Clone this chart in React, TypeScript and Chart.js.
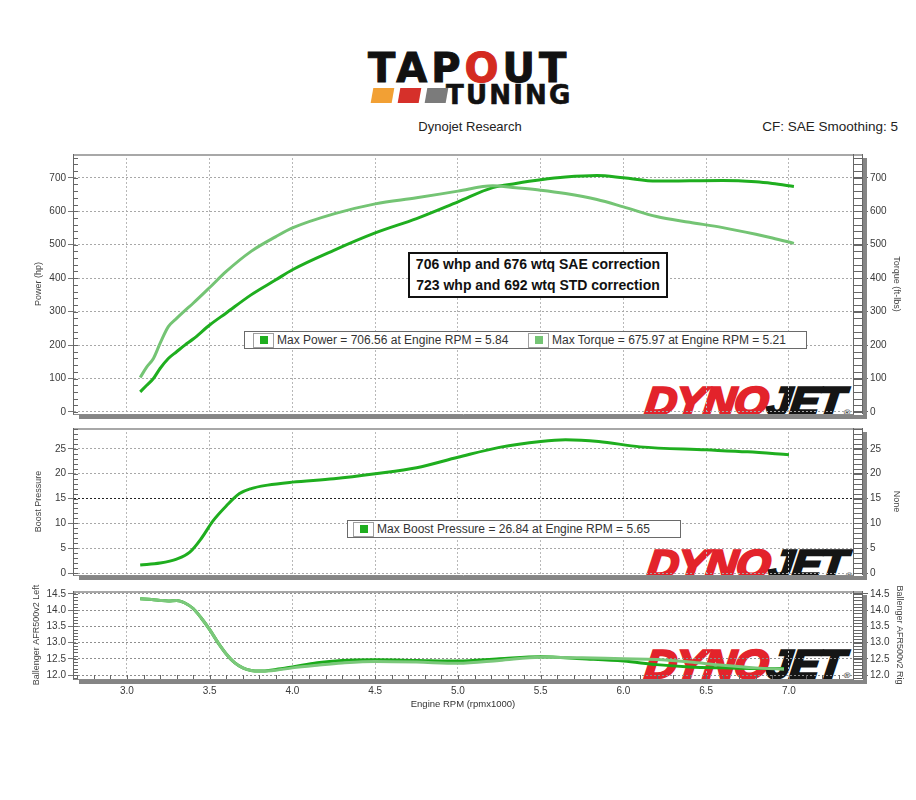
import React, { useEffect, useRef } from "react";
import { Chart, registerables } from "chart.js";
Chart.register(...registerables);

// ---------- data ----------
const rpmDyno = [3.08, 3.12, 3.16, 3.2, 3.25, 3.3, 3.35, 3.4, 3.5, 3.6, 3.75, 3.9, 4.0, 4.25, 4.5, 4.75, 5.0, 5.21, 5.35, 5.5, 5.65, 5.84, 6.0, 6.2, 6.4, 6.6, 6.8, 6.9, 7.03];
const powerHp = [60, 80, 100, 130, 160, 180, 200, 218, 260, 296, 350, 395, 425, 483, 535, 578, 628, 670.6, 683, 694, 702, 706.56, 700, 690, 691, 692, 688, 683, 674];
const torqueFtLbs = [103, 135, 160, 205, 255, 280, 303, 325, 372, 420, 480, 524, 550, 592, 622, 640, 660, 675.97, 670, 663, 653, 635, 613, 584, 567, 551, 531, 520, 504];

const rpmBoost = [3.08, 3.2, 3.3, 3.38, 3.45, 3.52, 3.6, 3.68, 3.75, 3.85, 4.0, 4.25, 4.5, 4.75, 5.0, 5.25, 5.5, 5.65, 5.85, 6.1, 6.5, 6.75, 7.0];
const boostPsi = [1.6, 2.0, 2.8, 4.2, 7.0, 10.5, 13.5, 16.0, 17.0, 17.7, 18.3, 19.0, 20.0, 21.2, 23.3, 25.3, 26.5, 26.84, 26.5, 25.4, 24.8, 24.4, 23.8];

const rpmAfr = [3.08, 3.15, 3.2, 3.25, 3.3, 3.35, 3.4, 3.45, 3.5, 3.55, 3.6, 3.65, 3.7, 3.75, 3.8, 3.9, 4.0, 4.15, 4.3, 4.5, 4.75, 5.0, 5.25, 5.5, 5.75, 6.0, 6.2, 6.4, 6.6, 6.8, 6.97];
const afrLeft = [14.35, 14.33, 14.3, 14.28, 14.3, 14.22, 14.05, 13.75, 13.4, 13.0, 12.65, 12.38, 12.22, 12.14, 12.12, 12.15, 12.22, 12.3, 12.37, 12.42, 12.4, 12.36, 12.45, 12.55, 12.53, 12.5, 12.48, 12.4, 12.3, 12.22, 12.18];
const afrRight = [14.35, 14.33, 14.3, 14.28, 14.3, 14.22, 14.05, 13.75, 13.4, 13.0, 12.65, 12.38, 12.22, 12.14, 12.12, 12.17, 12.25, 12.38, 12.45, 12.47, 12.45, 12.43, 12.5, 12.56, 12.5, 12.43, 12.32, 12.25, 12.22, 12.2, 12.2];

const xTickValues = [3.0, 3.5, 4.0, 4.5, 5.0, 5.5, 6.0, 6.5, 7.0];
const powerTicks = [0, 100, 200, 300, 400, 500, 600, 700];
const boostTicks = [0, 5, 10, 15, 20, 25];
const afrTicks = [12.0, 12.5, 13.0, 13.5, 14.0, 14.5];

const maxPower = { value: 706.56, rpm: 5.84 };
const maxTorque = { value: 675.97, rpm: 5.21 };
const maxBoost = { value: 26.84, rpm: 5.65 };
const noteLines = ["706 whp and 676 wtq SAE correction", "723 whp and 692 wtq STD correction"];

// ---------- style ----------
const FONT = "'Liberation Sans', Arial, sans-serif";
const X_MIN = 2.674;
const X_MAX = 7.387;
const C_POWER = "#1fae1f";
const C_TORQUE = "#74c474";
const C_AFR_L = "#7bc87b";
const C_AFR_R = "#1aaa1a";

const framePlugin = {
  id: "frame",
  afterDraw(chart: any, _args: any, o: any) {
    const { ctx, chartArea: a } = chart;
    const ys = chart.scales.y;
    const xs = chart.scales.x;
    ctx.save();
    ctx.setLineDash([]);
    ctx.strokeStyle = "#a8a8a8";
    ctx.lineWidth = 2;
    ctx.beginPath();
    ctx.moveTo(a.left, a.top + 1);
    ctx.lineTo(a.right + 10, a.top + 1);
    ctx.stroke();
    ctx.lineWidth = 1;
    ctx.strokeStyle = "#666";
    ctx.beginPath();
    ctx.moveTo(a.left + 0.5, a.top);
    ctx.lineTo(a.left + 0.5, a.bottom);
    ctx.moveTo(a.right + 0.5, a.top);
    ctx.lineTo(a.right + 0.5, a.bottom);
    ctx.moveTo(a.right + 9.5, a.top);
    ctx.lineTo(a.right + 9.5, a.bottom);
    const step = o.minorY;
    const s0 = Math.ceil(ys.min / step - 1e-6);
    const s1 = Math.floor(ys.max / step + 1e-6);
    for (let i = s0; i <= s1; i++) {
      const p = Math.round(ys.getPixelForValue(i * step)) + 0.5;
      ctx.moveTo(a.left, p);
      ctx.lineTo(a.left + 5, p);
      ctx.moveTo(a.right, p);
      ctx.lineTo(a.right + 9, p);
    }
    if (o.minorX) {
      const t0 = Math.ceil(xs.min / o.minorX - 1e-6);
      const t1 = Math.floor(xs.max / o.minorX + 1e-6);
      for (let i = t0; i <= t1; i++) {
        const p = Math.round(xs.getPixelForValue(i * o.minorX)) + 0.5;
        ctx.moveTo(p, a.bottom);
        ctx.lineTo(p, a.bottom - 4);
      }
    }
    ctx.stroke();
    ctx.fillStyle = "#858585";
    ctx.fillRect(a.right + 10, a.top + 4, 4, a.height + 1);
    ctx.fillRect(a.left + 6, a.bottom + 1, a.width + 8, 4);
    ctx.restore();
  },
};

function xScale(showLabels: boolean, titleText = "") {
  return {
    type: "linear",
    position: "bottom",
    min: X_MIN,
    max: X_MAX,
    afterBuildTicks: (s: any) => {
      s.ticks = xTickValues.map((v) => ({ value: v }));
    },
    afterFit: (s: any) => {
      s.height = showLabels ? 34 : 7;
    },
    ticks: {
      display: showLabels,
      font: { family: FONT, size: 10 },
      color: "#3a3a3a",
      padding: 6,
      maxRotation: 0,
      autoSkip: false,
      callback: (v: any) => Number(v).toFixed(1),
    },
    grid: { color: "#b8b8b8", drawTicks: false, lineWidth: 1 },
    border: { dash: [2, 2], color: "#8a8a8a", width: 1 },
    title: {
      display: showLabels,
      text: titleText,
      font: { family: FONT, size: 9.5 },
      color: "#333",
      padding: { top: 0, bottom: 3 },
    },
  };
}

function yScale(
  side: "left" | "right",
  min: number,
  max: number,
  tickVals: number[],
  title: string,
  titlePad: number,
  decimals: number,
  gridColor: any
) {
  const left = side === "left";
  return {
    type: "linear",
    position: side,
    min,
    max,
    afterBuildTicks: (s: any) => {
      s.ticks = tickVals.map((v) => ({ value: v }));
    },
    afterFit: (s: any) => {
      s.width = left ? 73 : 63;
    },
    ticks: {
      font: { family: FONT, size: 10 },
      color: "#3a3a3a",
      padding: 2,
      autoSkip: false,
      callback: (v: any) => Number(v).toFixed(decimals),
    },
    grid: left
      ? { color: gridColor, tickLength: 5, tickColor: "#777", drawTicks: true }
      : { drawOnChartArea: false, tickLength: 15, tickColor: "#666", drawTicks: true },
    border: { dash: [2, 2], color: "#777", width: 1 },
    title: {
      display: true,
      text: title,
      font: { family: FONT, size: 9 },
      color: "#444",
      padding: { top: titlePad, bottom: 0 },
    },
  };
}

function pts(xs: number[], ys: number[]) {
  return xs.map((x, i) => ({ x, y: ys[i] }));
}

function lineDs(label: string, data: any[], color: string, axis: string) {
  return {
    label,
    data,
    borderColor: color,
    backgroundColor: color,
    borderWidth: 3,
    pointRadius: 0,
    cubicInterpolationMode: "monotone",
    yAxisID: axis,
    fill: false,
  };
}

function baseOptions(padTop: number, scales: any, frame: any) {
  return {
    animation: false,
    responsive: false,
    maintainAspectRatio: false,
    devicePixelRatio: 1,
    layout: { padding: { top: padTop, left: 0, right: 0, bottom: 0 } },
    plugins: { legend: { display: false }, tooltip: { enabled: false }, frame },
    scales,
  };
}

const powerConfig: any = {
  type: "line",
  data: {
    datasets: [
      lineDs("Torque", pts(rpmDyno, torqueFtLbs), C_TORQUE, "y2"),
      lineDs("Power", pts(rpmDyno, powerHp), C_POWER, "y"),
    ],
  },
  options: baseOptions(
    14,
    {
      x: xScale(false),
      y: yScale("left", -6, 771, powerTicks, "Power (hp)", 33, 0, "#a8a8a8"),
      y2: yScale("right", -6, 771, powerTicks, "Torque (ft-lbs)", 14, 0, "#a8a8a8"),
    },
    { minorY: 20 }
  ),
  plugins: [framePlugin],
};

const boostConfig: any = {
  type: "line",
  data: { datasets: [lineDs("Boost Pressure", pts(rpmBoost, boostPsi), C_POWER, "y")] },
  options: baseOptions(
    8,
    {
      x: xScale(false),
      y: yScale("left", -0.4, 29.2, boostTicks, "Boost Pressure", 33, 0, (c: any) =>
        c.tick && c.tick.value === 15 ? "#222" : "#a8a8a8"
      ),
      y2: yScale("right", -0.4, 29.2, boostTicks, "None", 14, 0, "#a8a8a8"),
    },
    { minorY: 1 }
  ),
  plugins: [framePlugin],
};

const afrConfig: any = {
  type: "line",
  data: {
    datasets: [
      lineDs("Ballenger AFR500v2 Left", pts(rpmAfr, afrLeft), C_AFR_L, "y"),
      lineDs("Ballenger AFR500v2 Right", pts(rpmAfr, afrRight), C_AFR_R, "y2"),
    ],
  },
  options: baseOptions(
    8,
    {
      x: xScale(true, "Engine RPM (rpmx1000)"),
      y: yScale("left", 11.877, 14.59, afrTicks, "Ballenger AFR500v2 Left", 31, 1, "#8f8f8f"),
      y2: yScale("right", 11.877, 14.59, afrTicks, "Ballenger AFR500v2 Rig", 11, 1, "#8f8f8f"),
    },
    { minorY: 0.1, minorX: 0.1 }
  ),
  plugins: [framePlugin],
};

// ---------- components ----------
function ChartCanvas({ top, height, config }: { top: number; height: number; config: any }) {
  const ref = useRef<HTMLCanvasElement>(null);
  useEffect(() => {
    const chart = new Chart(ref.current as HTMLCanvasElement, config);
    return () => chart.destroy();
  }, []);
  return (
    <canvas
      ref={ref}
      width={916}
      height={height}
      style={{ position: "absolute", left: 0, top, width: 916, height, zIndex: 1 }}
    />
  );
}

function Watermark({ left, top }: { left: number; top: number }) {
  return (
    <div
      style={{
        position: "absolute",
        left,
        top,
        zIndex: 0,
        fontFamily: FONT,
        fontWeight: 700,
        fontStyle: "italic",
        fontSize: 40,
        lineHeight: "40px",
        whiteSpace: "nowrap",
        transform: "scaleX(1.09) skewX(-6deg)",
        transformOrigin: "left top",
        letterSpacing: -1,
      }}
    >
      <span style={{ color: "#e3232b", WebkitTextStroke: "2.6px #e3232b" }}>DYNO</span>
      <span style={{ color: "#151515", WebkitTextStroke: "2.6px #151515" }}>JET</span>
      <span style={{ fontSize: 8, color: "#333", fontStyle: "normal", marginLeft: 1 }}>®</span>
    </div>
  );
}

function LegendIcon({ left, color }: { left: number; color: string }) {
  return (
    <div
      style={{
        position: "absolute",
        left,
        top: 1,
        width: 19,
        height: 13,
        border: "1px solid #a0a0a0",
        background: "#fff",
      }}
    >
      <div style={{ position: "absolute", left: 6, top: 2, width: 8, height: 8, background: color }} />
    </div>
  );
}

function LegendBox({
  left,
  top,
  width,
  items,
}: {
  left: number;
  top: number;
  width: number;
  items: { icon: number; text: string; color: string }[];
}) {
  return (
    <div
      style={{
        position: "absolute",
        left,
        top,
        width,
        height: 16,
        border: "1.5px solid #6a6a6a",
        background: "#fff",
        zIndex: 2,
        fontFamily: FONT,
        fontSize: 12,
        color: "#333",
      }}
    >
      {items.map((it, i) => (
        <React.Fragment key={i}>
          <LegendIcon left={it.icon} color={it.color} />
          <div style={{ position: "absolute", left: it.icon + 24, top: 1, lineHeight: "15px", whiteSpace: "nowrap" }}>
            {it.text}
          </div>
        </React.Fragment>
      ))}
    </div>
  );
}

export default function App() {
  return (
    <div
      style={{
        position: "absolute",
        left: 0,
        top: 0,
        width: 916,
        height: 800,
        background: "#fff",
        overflow: "hidden",
      }}
    >
      {/* logo */}
      <div
        style={{
          position: "absolute",
          left: 368,
          top: 48,
          fontFamily: "'DejaVu Sans', sans-serif",
          fontWeight: 700,
          fontSize: 40,
          lineHeight: "40px",
          letterSpacing: 4,
          color: "#111",
          whiteSpace: "nowrap",
          WebkitTextStroke: "1px #111",
        }}
      >
        TAP<span style={{ color: "#d42a20", WebkitTextStroke: "1px #d42a20" }}>O</span>UT
      </div>
      <div style={{ position: "absolute", left: 372, top: 88, width: 21, height: 15, background: "#f2a034", transform: "skewX(-10deg)" }} />
      <div style={{ position: "absolute", left: 399, top: 88, width: 21, height: 15, background: "#d6302a", transform: "skewX(-10deg)" }} />
      <div style={{ position: "absolute", left: 426, top: 88, width: 21, height: 15, background: "#7b7b7b", transform: "skewX(-10deg)" }} />
      <div
        style={{
          position: "absolute",
          left: 446,
          top: 82,
          fontFamily: "'DejaVu Sans', sans-serif",
          fontWeight: 700,
          fontSize: 26,
          lineHeight: "26px",
          letterSpacing: 2.2,
          color: "#111",
          whiteSpace: "nowrap",
          WebkitTextStroke: "0.6px #111",
        }}
      >
        TUNING
      </div>

      {/* header */}
      <div
        style={{
          position: "absolute",
          left: 370,
          top: 119,
          width: 200,
          textAlign: "center",
          fontFamily: FONT,
          fontSize: 13,
          lineHeight: "16px",
          color: "#222",
        }}
      >
        Dynojet Research
      </div>
      <div
        style={{
          position: "absolute",
          left: 650,
          top: 119,
          width: 248,
          textAlign: "right",
          fontFamily: FONT,
          fontSize: 13.5,
          lineHeight: "16px",
          color: "#222",
        }}
      >
        CF: SAE Smoothing: 5
      </div>

      <Watermark left={648} top={381} />
      <Watermark left={650} top={544} />
      <Watermark left={648} top={644} />

      <ChartCanvas top={140} height={282} config={powerConfig} />
      <ChartCanvas top={420} height={163} config={boostConfig} />
      <ChartCanvas top={583} height={130} config={afrConfig} />

      {/* annotation */}
      <div
        style={{
          position: "absolute",
          left: 408,
          top: 252,
          width: 256,
          height: 42,
          border: "2px solid #111",
          background: "#fff",
          zIndex: 2,
          fontFamily: FONT,
          fontWeight: 700,
          fontSize: 14,
          lineHeight: "21px",
          textAlign: "center",
          color: "#111",
        }}
      >
        {noteLines.map((t, i) => (
          <div key={i}>{t}</div>
        ))}
      </div>

      <LegendBox
        left={244}
        top={331}
        width={561}
        items={[
          {
            icon: 8,
            color: C_POWER,
            text: `Max Power = ${maxPower.value.toFixed(2)} at Engine RPM = ${maxPower.rpm.toFixed(2)}`,
          },
          {
            icon: 283,
            color: C_TORQUE,
            text: `Max Torque = ${maxTorque.value.toFixed(2)} at Engine RPM = ${maxTorque.rpm.toFixed(2)}`,
          },
        ]}
      />
      <LegendBox
        left={347}
        top={520}
        width={332}
        items={[
          {
            icon: 5,
            color: C_POWER,
            text: `Max Boost Pressure = ${maxBoost.value.toFixed(2)} at Engine RPM = ${maxBoost.rpm.toFixed(2)}`,
          },
        ]}
      />
    </div>
  );
}
